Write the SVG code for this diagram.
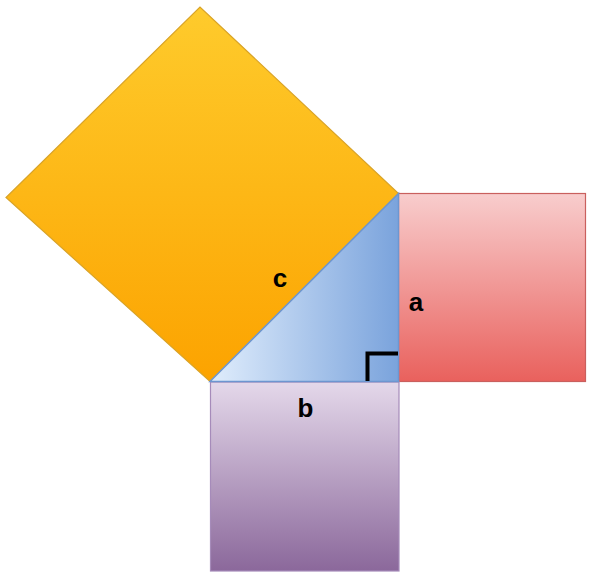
<svg xmlns="http://www.w3.org/2000/svg" width="592" height="577" viewBox="0 0 592 577">
<defs>
<linearGradient id="gc" x1="0" y1="0" x2="0" y2="1"><stop offset="0" stop-color="#FECB2C"/><stop offset="1" stop-color="#FCA300"/></linearGradient>
<linearGradient id="ga" x1="0" y1="0" x2="0" y2="1"><stop offset="0" stop-color="#F8CDCD"/><stop offset="1" stop-color="#E9615D"/></linearGradient>
<linearGradient id="gb" x1="0" y1="0" x2="0" y2="1"><stop offset="0" stop-color="#E4D8EA"/><stop offset="1" stop-color="#8B689B"/></linearGradient>
<linearGradient id="gt" x1="0" y1="0" x2="1" y2="0"><stop offset="0" stop-color="#E0EDFC"/><stop offset="1" stop-color="#7AA3DC"/></linearGradient>
</defs>
<style>
.lbl{font-family:"Liberation Sans",Arial,sans-serif;font-weight:bold;font-size:26px;fill:#000;text-anchor:middle}
</style>
<g id="square-c"><polygon points="210,381.5 398.5,193.5 200,7 6,197.5" fill="url(#gc)" stroke="#D9A328" stroke-width="1.2"/></g>
<g id="square-a"><rect x="398.5" y="193.5" width="187" height="188" fill="url(#ga)" stroke="#C9605E" stroke-width="1.2"/></g>
<g id="square-b"><rect x="210.5" y="382" width="188.5" height="189" fill="url(#gb)" stroke="#A68BBA" stroke-width="1.2"/></g>
<g id="triangle"><polygon points="210,381.5 398.5,381.5 398.5,193.5" fill="url(#gt)" stroke="#6D96D0" stroke-width="1.5"/></g>
<g id="right-angle"><polyline points="367.5,381 367.5,353.5 398,353.5" fill="none" stroke="#000" stroke-width="4"/></g>
<text class="lbl" x="280" y="287">c</text>
<text class="lbl" x="416" y="311">a</text>
<text class="lbl" x="305.5" y="417">b</text>
</svg>
